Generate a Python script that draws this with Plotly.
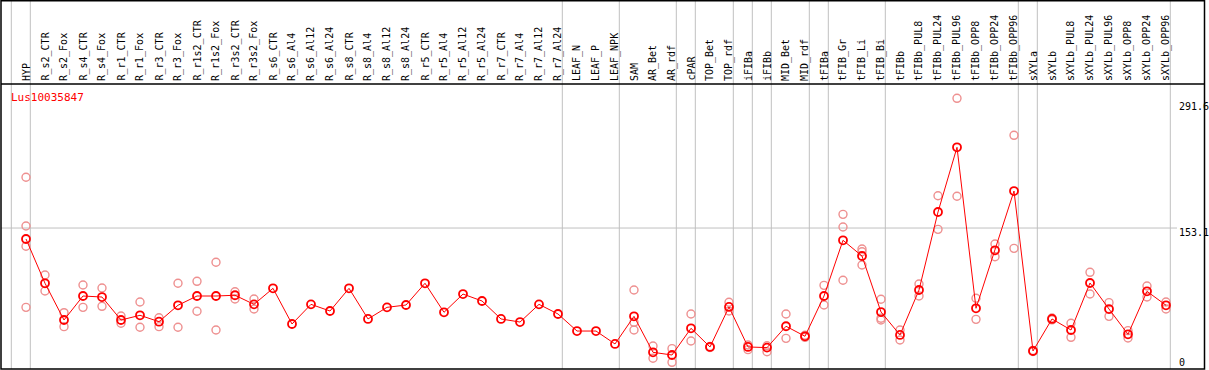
import plotly.graph_objects as go

categories = ["HYP", "R_s2_CTR", "R_s2_Fox", "R_s4_CTR", "R_s4_Fox", "R_r1_CTR", "R_r1_Fox",
              "R_r3_CTR", "R_r3_Fox", "R_r1s2_CTR", "R_r1s2_Fox", "R_r3s2_CTR", "R_r3s2_Fox",
              "R_s6_CTR", "R_s6_Al4", "R_s6_Al12", "R_s6_Al24", "R_s8_CTR", "R_s8_Al4",
              "R_s8_Al12", "R_s8_Al24", "R_r5_CTR", "R_r5_Al4", "R_r5_Al12", "R_r5_Al24",
              "R_r7_CTR", "R_r7_Al4", "R_r7_Al12", "R_r7_Al24", "LEAF_N", "LEAF_P", "LEAF_NPK",
              "SAM", "AR_Bet", "AR_rdf", "cPAR", "TOP_Bet", "TOP_rdf", "iFIBa", "iFIBb",
              "MID_Bet", "MID_rdf", "tFIBa", "tFIB_Gr", "tFIB_Li", "tFIB_Bi", "tFIBb",
              "tFIBb_PUL8", "tFIBb_PUL24", "tFIBb_PUL96", "tFIBb_OPP8", "tFIBb_OPP24",
              "tFIBb_OPP96", "sXYLa", "sXYLb", "sXYLb_PUL8", "sXYLb_PUL24", "sXYLb_PUL96",
              "sXYLb_OPP8", "sXYLb_OPP24", "sXYLb_OPP96"]

mean_values = [141.4, 94.1, 54.9, 80.5, 79.4, 54.9, 59.9, 53.1, 70.6, 80.5, 80.5, 81.3, 71.6,
               88.7, 50.6, 71.6, 64.5, 88.7, 56.0, 68.4, 70.9, 94.1, 63.1, 82.6, 75.2,
               56.0, 52.7, 71.6, 61.3, 43.1, 43.1, 29.3,
               58.8, 20.4, 17.5, 46.0, 26.1, 68.8, 26.1, 25.4, 48.2, 37.5,
               80.5, 140.0, 123.2, 63.4, 38.9, 86.9, 170.2, 239.3, 67.4, 129.3, 192.6,
               21.8, 56.0, 44.2, 94.4, 66.6, 39.6, 85.5, 70.6]

replicate_values = [
    [207.3, 155.3, 133.6, 68.4], [102.9, 85.8], [62.7, 47.8], [92.3, 68.4], [89.1, 69.5],
    [59.2, 51.4], [74.1, 47.1], [57.3, 47.8], [94.1, 47.1], [96.2, 64.2], [116.5, 44.2],
    [85.1, 77.3], [77.3, 66.6],
    [], [], [], [], [], [], [], [], [], [], [], [], [], [], [], [], [], [], [],
    [86.9, 52.4, 44.2], [27.1, 14.0], [24.3, 9.7], [61.3, 32.5], [26.6, 25.6], [73.8, 64.5],
    [28.2, 23.2], [27.4, 21.0], [61.3, 35.3], [38.6, 36.4],
    [91.9, 70.9], [167.7, 154.2, 97.3], [130.7, 127.8, 113.6], [77.0, 56.7, 54.9],
    [44.2, 33.5], [93.3, 80.5], [187.6, 151.7], [291.6, 187.0], [78.1, 55.6],
    [136.0, 122.5], [252.1, 131.4],
    [22.4, 21.2], [57.0, 55.0], [51.4, 36.4], [105.8, 82.6], [73.4, 58.8], [43.5, 35.7],
    [91.2, 79.4], [74.1, 66.6]]

group_breaks = [-1, 0, 28, 31, 34, 35, 37, 38, 39, 41, 42, 45, 52, 53, 60]
axis_labels = ["291.6", "153.1", "0"]
threshold = 153.1
title = "Lus10035847"

W, H = 1209, 370
X0, DX = 26.0, 19.0          # pixel of first category, spacing
Y0, KY = 371.4, 0.9365        # pixel of value 0, pixels per unit

xr = [-X0 / DX, (W - X0) / DX]
yr = [(Y0 - H) / KY, Y0 / KY]

def px(p):
    return p / W

def py(p):
    return 1 - p / H

xs = list(range(len(categories)))
rx, ry = [], []
for i, reps in enumerate(replicate_values):
    for v in reps:
        rx.append(i)
        ry.append(v)

fig = go.Figure()
fig.add_trace(go.Scatter(x=rx, y=ry, mode="markers", hoverinfo="skip",
                         marker=dict(symbol="circle-open", size=8, color="#ee9090",
                                     line=dict(width=1.4, color="#ee9090"))))
fig.add_trace(go.Scatter(x=xs, y=mean_values, mode="lines+markers",
                         line=dict(color="#ff0000", width=1),
                         marker=dict(symbol="circle-open", size=8, color="#ff0000",
                                     line=dict(width=1.8, color="#ff0000"))))

shapes = []
for b in group_breaks:
    xb = b + 4.3 / DX
    shapes.append(dict(type="line", xref="x", yref="paper", x0=xb, x1=xb,
                       y0=py(369), y1=py(0), line=dict(color="#c0c0c0", width=1), layer="below"))
shapes.append(dict(type="line", xref="paper", yref="y", x0=px(1), x1=px(1177),
                   y0=threshold, y1=threshold, line=dict(color="#c0c0c0", width=1), layer="below"))
shapes.append(dict(type="line", xref="paper", yref="paper", x0=px(1), x1=px(1204.5),
                   y0=py(84), y1=py(84), line=dict(color="black", width=1.5)))
shapes.append(dict(type="rect", xref="paper", yref="paper", x0=px(1), x1=px(1204.5),
                   y0=py(369), y1=py(0.7), line=dict(color="black", width=1.5)))

font = dict(family="DejaVu Sans Mono", size=10, color="black")
annotations = []
for i, c in enumerate(categories):
    annotations.append(dict(x=i, y=py(83), xref="x", yref="paper", text=c, showarrow=False,
                            textangle=-90, xanchor="center", yanchor="bottom", font=font))
annotations.append(dict(x=px(9), y=py(89.5), xref="paper", yref="paper", text=title,
                        showarrow=False, xanchor="left", yanchor="top",
                        font=dict(family="DejaVu Sans Mono", size=11, color="#ff0000")))
for lab, yc in zip(axis_labels, [107, 232, 362]):
    annotations.append(dict(x=px(1177), y=py(yc), xref="paper", yref="paper", text=lab,
                            showarrow=False, xanchor="left", yanchor="middle", font=font))

fig.update_layout(width=W, height=H, margin=dict(l=0, r=0, t=0, b=0),
                  paper_bgcolor="white", plot_bgcolor="white", showlegend=False,
                  xaxis=dict(range=xr, visible=False, fixedrange=True),
                  yaxis=dict(range=yr, visible=False, fixedrange=True),
                  shapes=shapes, annotations=annotations)
fig.write_html("out.html", config={"displayModeBar": False},
               post_script="document.body.style.margin='0';document.body.style.overflow='hidden';")
